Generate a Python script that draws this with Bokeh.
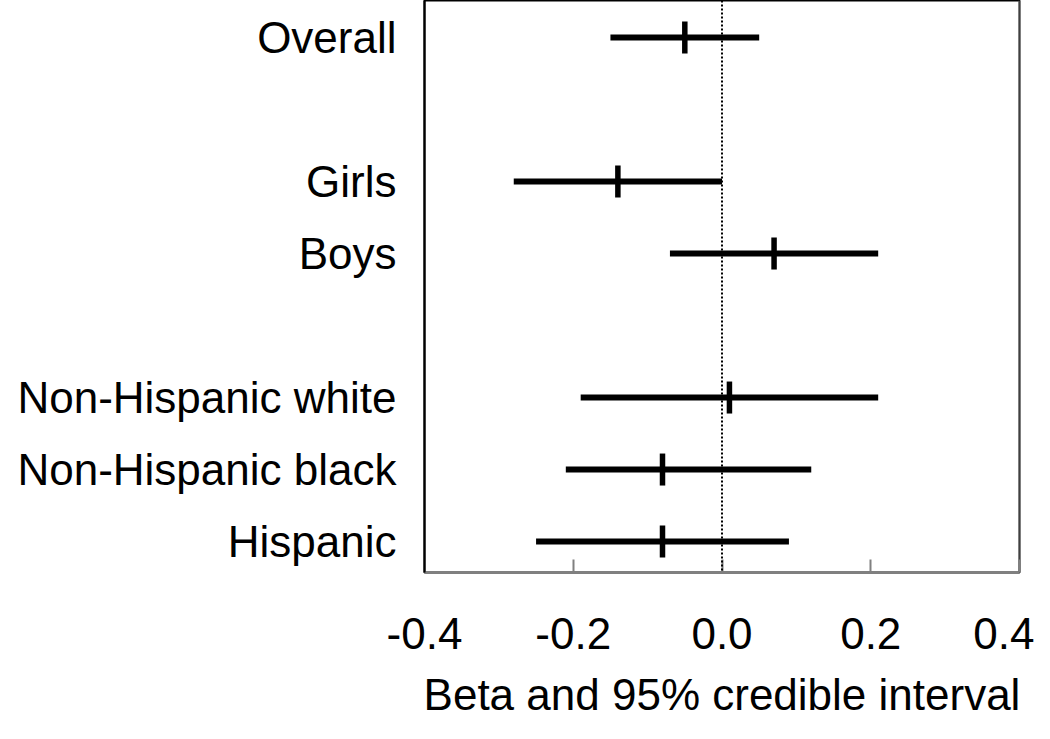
import math
from bokeh.plotting import figure
from bokeh.models import Range1d, FixedTicker, Span, ColumnDataSource
from bokeh.embed import file_html
from bokeh.resources import INLINE

# ---- data ----
groups = ["Overall", "Girls", "Boys", "Non-Hispanic white", "Non-Hispanic black", "Hispanic"]
row_pos = [1, 3, 4, 6, 7, 8]
beta = [-0.05, -0.14, 0.07, 0.01, -0.08, -0.08]
lower = [-0.15, -0.28, -0.07, -0.19, -0.21, -0.25]
upper = [0.05, 0.00, 0.21, 0.21, 0.12, 0.09]
x_ticks = [-0.4, -0.2, 0.0, 0.2, 0.4]
x_tick_labels = ["-0.4", "-0.2", "0.0", "0.2", "0.4"]
x_title = "Beta and 95% credible interval"

FONT = "Liberation Sans"

src = ColumnDataSource(dict(y=row_pos, beta=beta, lo=lower, hi=upper))

p = figure(width=1034, height=723, output_backend="svg", toolbar_location=None,
           x_range=Range1d(-0.4, 0.4), y_range=Range1d(8.43, 0.486),
           min_border_left=424, min_border_right=15, min_border_top=0,
           min_border_bottom=151)
p.grid.visible = False
p.outline_line_color = "black"
p.outline_line_width = 2
p.background_fill_color = "white"
p.border_fill_color = "white"

# zero reference line
p.add_layout(Span(location=0, dimension="height", line_color="black",
                  line_width=2, line_dash="2 2"))
# right border in gray
p.add_layout(Span(location=0.4, dimension="height", line_color="#808080", line_width=2))

# intervals
p.segment(x0="lo", x1="hi", y0="y", y1="y", source=src, line_color="black", line_width=6)
p.scatter(x="beta", y="y", source=src, marker="dash", angle=math.pi / 2, size=32,
          line_color="black", line_width=5.5)

# x axis
xa = p.xaxis[0]
xa.ticker = FixedTicker(ticks=x_ticks)
xa.major_label_overrides = {t: l for t, l in zip(x_ticks, x_tick_labels)}
xa.major_tick_in = 13
xa.major_tick_out = 0
xa.minor_tick_line_color = None
xa.axis_line_color = "#808080"
xa.axis_line_width = 2
xa.major_tick_line_color = "#808080"
xa.major_tick_line_width = 2
xa.major_label_text_font = FONT
xa.major_label_text_font_size = "44px"
xa.major_label_text_color = "black"
xa.major_label_standoff = 45
xa.axis_label = x_title
xa.axis_label_text_font = FONT
xa.axis_label_text_font_size = "44px"
xa.axis_label_text_font_style = "normal"
xa.axis_label_text_color = "black"
xa.axis_label_standoff = 18

# y axis
ya = p.yaxis[0]
ya.ticker = FixedTicker(ticks=row_pos)
ya.major_label_overrides = {r: g for r, g in zip(row_pos, groups)}
ya.major_tick_in = 0
ya.major_tick_out = 0
ya.minor_tick_line_color = None
ya.axis_line_color = "black"
ya.axis_line_width = 2
ya.major_label_text_font = FONT
ya.major_label_text_font_size = "44px"
ya.major_label_text_color = "black"
ya.major_label_standoff = 28

open("out.html", "w").write(file_html(p, INLINE))
